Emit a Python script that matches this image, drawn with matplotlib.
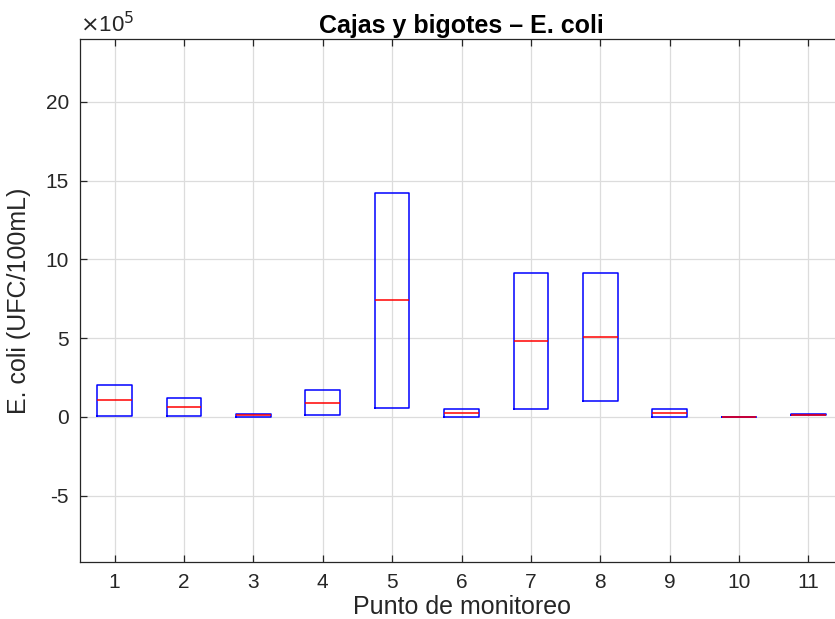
import matplotlib
matplotlib.use('Agg')
import matplotlib.pyplot as plt
from matplotlib.ticker import FuncFormatter

plt.rcParams['font.family'] = ['Liberation Sans', 'DejaVu Sans']
plt.rcParams['mathtext.fontset'] = 'dejavusans'
plt.rcParams['axes.unicode_minus'] = False

# Box statistics per monitoring point (UFC/100mL)
puntos = [1, 2, 3, 4, 5, 6, 7, 8, 9, 10, 11]
q1 = [0.06e5, 0.08e5, 0.0, 0.11e5, 0.57e5, 0.0, 0.51e5, 1.0e5, 0.0, 0.0, 0.10e5]
mediana = [1.04e5, 0.63e5, 0.13e5, 0.89e5, 7.42e5, 0.25e5, 4.81e5, 5.08e5, 0.25e5, 0.0, 0.13e5]
q3 = [2.03e5, 1.21e5, 0.21e5, 1.68e5, 14.19e5, 0.49e5, 9.11e5, 9.11e5, 0.51e5, 0.0, 0.15e5]
escala = 1e5

stats = []
for p, a, m, b in zip(puntos, q1, mediana, q3):
    stats.append({'label': str(p), 'q1': a, 'med': m, 'q3': b,
                  'whislo': a, 'whishi': b, 'fliers': []})

fig = plt.figure(figsize=(8.35, 6.19), dpi=100)
ax = fig.add_axes([0.0958, 0.0921, 0.9138, 0.845])

gris = '#262626'
ax.bxp(stats, positions=puntos, widths=0.5, showcaps=False, showfliers=False,
       boxprops=dict(color='blue', linewidth=1.1),
       medianprops=dict(color='red', linewidth=1.1),
       whiskerprops=dict(linewidth=0))

ax.set_xlim(0.5, 11.5)
ax.set_ylim(-9.22e5, 24e5)
ax.set_yticks([-5e5, 0, 5e5, 10e5, 15e5, 20e5])
ax.set_xticks(puntos)
ax.set_xticklabels([str(p) for p in puntos])

# y ticks shown in units of 10^5, exponent written above the axis
ax.yaxis.set_major_formatter(FuncFormatter(lambda v, pos: f'{v / escala:g}'))
ax.text(0.0, 1.004, r'$\times$10$^{5}$', transform=ax.transAxes, ha='left',
        va='bottom', fontsize=16, color=gris)

ax.grid(True, color='#dcdcdc', linewidth=0.9)
ax.set_axisbelow(True)
for s in ax.spines.values():
    s.set_color(gris)
    s.set_linewidth(0.9)
ax.tick_params(direction='in', length=5, width=0.9, colors=gris,
               labelsize=15, top=True, right=True, pad=8)

ax.set_title('Cajas y bigotes – E. coli', fontsize=18, fontweight='bold', pad=4)
ax.set_xlabel('Punto de monitoreo', fontsize=18, color=gris, labelpad=2)
ax.set_ylabel('E. coli (UFC/100mL)', fontsize=18, color=gris)
ax.yaxis.set_label_coords(-0.064, 0.5)

fig.savefig('out.png', dpi=100)
